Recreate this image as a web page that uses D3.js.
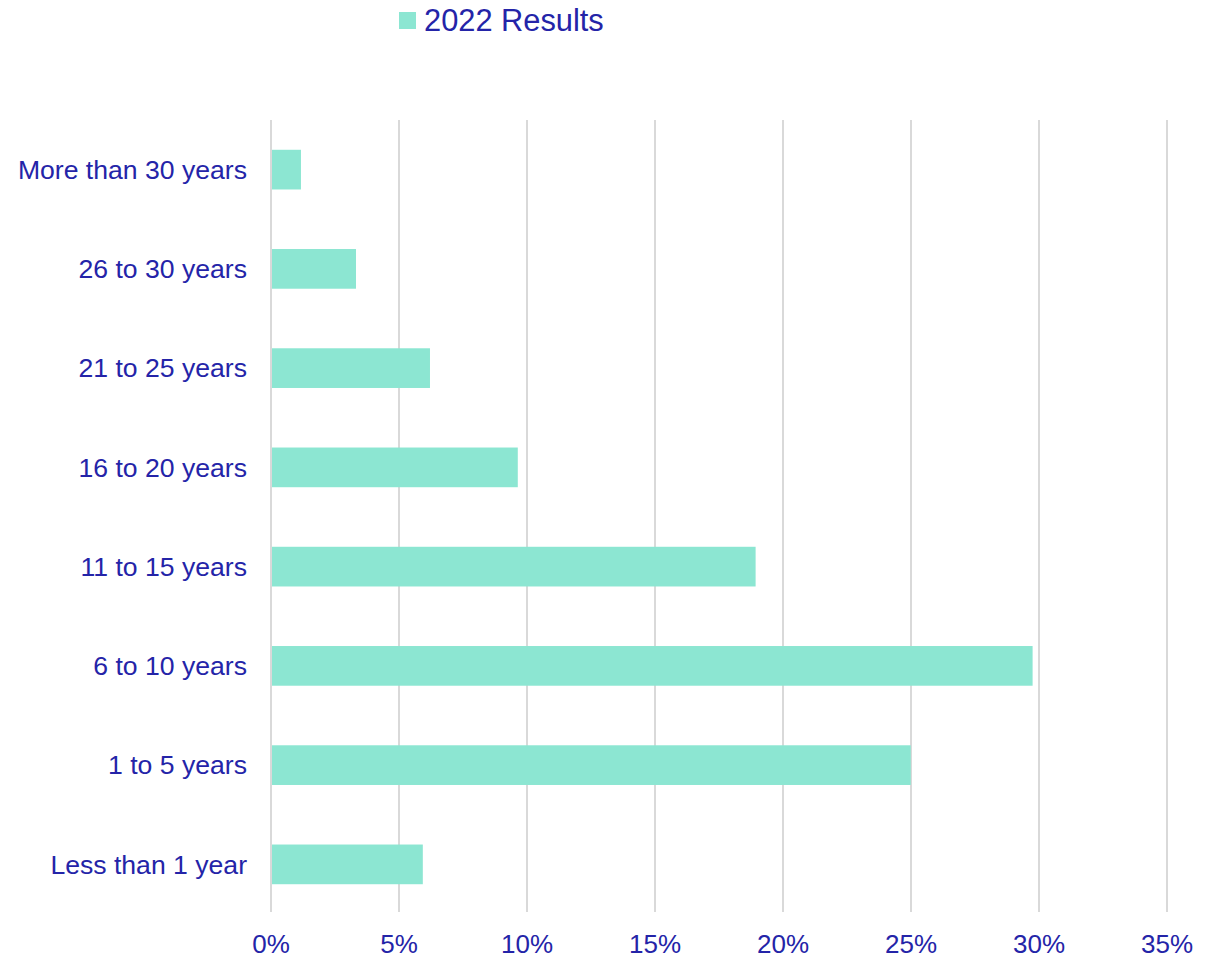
<!DOCTYPE html>
<html><head><meta charset="utf-8">
<script src="https://cdn.jsdelivr.net/npm/d3@7"></script>
<style>body{margin:0;background:#fff;} svg{display:block;}</style>
</head><body>
<svg id="c" width="1219" height="959"></svg>
<script>
const categories = ["More than 30 years","26 to 30 years","21 to 25 years","16 to 20 years","11 to 15 years","6 to 10 years","1 to 5 years","Less than 1 year"];
const values = [1.17, 3.32, 6.21, 9.64, 18.93, 29.75, 24.99, 5.93];
const ticks = [0,5,10,15,20,25,30,35];
const seriesName = "2022 Results";

const textColor = "#2424a8", barColor = "#8ce6d2", gridColor = "#d9d9d9";
const svg = d3.select("#c");
const x = d3.scaleLinear().domain([0,35]).range([271,1167]);
const y = d3.scaleBand().domain(categories).range([120,914]).paddingInner(0.6).paddingOuter(0.3);

svg.append("g").selectAll("line").data(ticks).join("line")
  .attr("x1",d=>x(d)).attr("x2",d=>x(d)).attr("y1",120).attr("y2",912)
  .attr("stroke",gridColor).attr("stroke-width",2);

svg.append("g").selectAll("rect").data(categories).join("rect")
  .attr("x",x(0)+1).attr("y",d=>y(d))
  .attr("width",(d,i)=>x(values[i])-x(0)-1).attr("height",y.bandwidth())
  .attr("fill",barColor);

svg.append("g").selectAll("text").data(ticks).join("text")
  .attr("x",d=>x(d)).attr("y",953).attr("text-anchor","middle")
  .attr("font-family","Liberation Sans, Arial, sans-serif").attr("font-size",26)
  .attr("fill",textColor).text(d=>d+"%");

svg.append("g").selectAll("text").data(categories).join("text")
  .attr("x",247).attr("y",d=>y(d)+y.bandwidth()/2).attr("dy","0.35em").attr("text-anchor","end")
  .attr("font-family","Liberation Sans, Arial, sans-serif").attr("font-size",26.6)
  .attr("fill",textColor).text(d=>d);

svg.append("rect").attr("x",399).attr("y",12).attr("width",17).attr("height",17).attr("fill",barColor);
svg.append("text").attr("x",424).attr("y",31)
  .attr("font-family","Liberation Sans, Arial, sans-serif").attr("font-size",30.8)
  .attr("fill",textColor).text(seriesName);
</script>
</body></html>
